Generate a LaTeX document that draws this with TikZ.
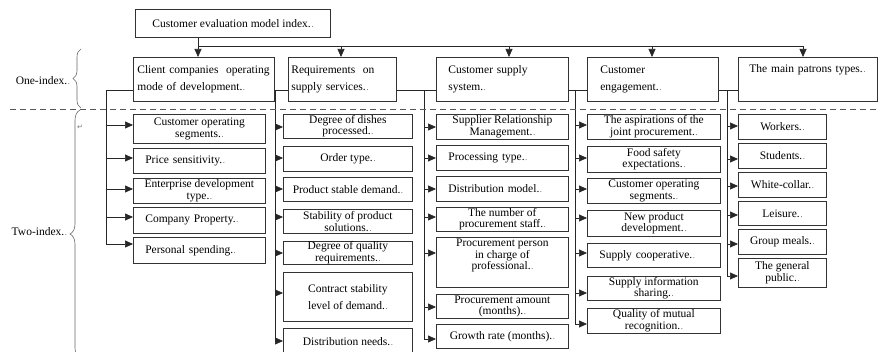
\documentclass[tikz,border=0pt]{standalone}
\usepackage{fontspec}
\setmainfont{Liberation Serif}
\newfontfamily\dejavu{DejaVu Sans}
\usetikzlibrary{arrows.meta,decorations.pathreplacing}
\newcommand{\pmk}{\kern0.8pt{\fontsize{7}{7}\selectfont.}}
\tikzset{
  ln/.style={line width=0.7pt, draw=black!85},
  arr/.style={ln, -{Triangle[length=8pt,width=7pt]}},
  topbox/.style={ln, draw=black!80, rectangle, inner sep=0pt, font=\fontsize{11.5}{12}\selectfont},
  lonebox/.style={ln, draw=black!80, rectangle, inner ysep=0pt, align=left, font=\fontsize{11.5}{17}\selectfont, anchor=north west},
  cbox/.style={ln, draw=black!80, rectangle, inner xsep=2pt, inner ysep=0pt, align=center, font=\fontsize{11.5}{11.5}\selectfont, anchor=north west},
  lbox/.style={ln, draw=black!80, rectangle, inner xsep=12pt, inner ysep=0pt, align=left, font=\fontsize{11.5}{11.5}\selectfont, anchor=north west},
  brc/.style={line width=0.6pt, draw=black!60, decorate},
  dline/.style={line width=0.8pt, draw=black!65, dash pattern=on 6pt off 4pt},
  lab/.style={font=\fontsize{11.5}{12}\selectfont, anchor=east, inner sep=0pt}
}
\begin{document}
\begin{tikzpicture}[x=1pt,y=-1pt]
\useasboundingbox (0,0) rectangle (880,352);
% top
\node[topbox, minimum width=195pt, minimum height=28pt, anchor=north west] (top) at (135,9) {Customer evaluation model index.\pmk};
% level one
\node[lonebox, minimum width=141pt, minimum height=44pt, text width=133pt, inner xsep=4pt] (l1) at (133,57) {Client companies\ \ operating\\mode of development.\pmk};
\node[lonebox, minimum width=108pt, minimum height=44pt, text width=102pt, inner xsep=3pt] (l2) at (288,57) {Requirements\ \ on\\supply services.\pmk};
\node[lonebox, minimum width=132pt, minimum height=44pt, text width=108pt, inner xsep=12pt] (l3) at (436,57) {Customer supply\\system.\pmk};
\node[lonebox, minimum width=131pt, minimum height=44pt, text width=105pt, inner xsep=13pt] (l4) at (587,57) {Customer\\engagement.\pmk};
\node[lonebox, minimum width=139pt, minimum height=44pt, text width=123pt, inner xsep=8pt] (l5) at (738,57) {\hspace*{3pt}The main patrons types.\pmk\\ \strut};
% top bus
\coordinate (t0) at (198,46);
\coordinate (t1) at (341,46);
\coordinate (t2) at (509,46);
\coordinate (t3) at (652,46);
\coordinate (t4) at (803,46);
\draw[ln] (top.south -| t0) -- (t0) -- (t4);
\draw[arr] (t0) -- (t0 |- l1.north);
\draw[arr] (t1) -- (t1 |- l2.north);
\draw[arr] (t2) -- (t2 |- l3.north);
\draw[arr] (t3) -- (t3 |- l4.north);
\draw[arr] (t4) -- (t4 |- l5.north);
% braces and labels
\draw[brc, decoration={brace, amplitude=8pt}] (81,108) -- (81,49);
\draw[brc, decoration={brace, amplitude=10pt}] (80,358) -- (80,110);
\node[lab] (one) at (70,81) {One-index.\pmk};
\node[lab] (two) at (67,232) {Two-index.\pmk};
\node[font=\fontsize{7}{7}\dejavu, text=black!55, inner sep=0pt] (ret) at (80,127) {↵};
% column 1
\node[cbox, minimum width=132pt, minimum height=29pt] (a1) at (133,114) {Customer operating\\segments.\pmk};
\node[lbox, text width=108pt, minimum height=25pt] (a2) at (133,148) {Price sensitivity.\pmk};
\node[cbox, minimum width=132pt, minimum height=25pt] (a3) at (133,178) {Enterprise development\\type.\pmk};
\node[lbox, text width=108pt, minimum height=26pt] (a4) at (133,207) {Company Property.\pmk};
\node[lbox, text width=108pt, minimum height=26pt] (a5) at (133,237) {Personal spending.\pmk};
% column 2
\node[cbox, minimum width=129pt, minimum height=24pt] (b1) at (283,114) {Degree of dishes\\processed.\pmk};
\node[cbox, minimum width=129pt, minimum height=25pt] (b2) at (283,146) {Order type.\pmk};
\node[cbox, minimum width=129pt, minimum height=24pt] (b3) at (283,177) {Product stable demand.\pmk};
\node[cbox, minimum width=129pt, minimum height=24pt] (b4) at (283,209) {Stability of product\\solutions.\pmk};
\node[cbox, minimum width=129pt, minimum height=23pt] (b5) at (283,241) {Degree of quality\\requirements.\pmk};
\node[cbox, minimum width=129pt, minimum height=49pt] (b6) at (283,272) {Contract stability\\[6pt]level of demand.\pmk};
\node[cbox, minimum width=129pt, minimum height=27pt] (b7) at (283,328) {Distribution needs.\pmk};
% column 3
\node[cbox, minimum width=132pt, minimum height=25pt] (c1) at (436,114) {Supplier Relationship\\Management.\pmk};
\node[lbox, text width=108pt, minimum height=25pt] (c2) at (436,145) {Processing type.\pmk};
\node[lbox, text width=108pt, minimum height=25pt] (c3) at (436,176) {Distribution model.\pmk};
\node[cbox, minimum width=132pt, minimum height=24pt] (c4) at (436,207) {The number of\\procurement staff.\pmk};
\node[cbox, minimum width=132pt, minimum height=50pt] (c5) at (436,237) {Procurement person\\in charge of\\professional.\pmk\\[4pt]};
\node[cbox, minimum width=132pt, minimum height=24pt] (c6) at (436,294) {Procurement amount\\(months).\pmk};
\node[cbox, minimum width=132pt, minimum height=24pt] (c7) at (436,324) {Growth rate (months).\pmk};
% column 4
\node[cbox, minimum width=133pt, minimum height=25pt] (d1) at (587,114) {The aspirations of the\\joint procurement.\pmk};
\node[cbox, minimum width=133pt, minimum height=26pt] (d2) at (587,146) {Food safety\\expectations.\pmk};
\node[cbox, minimum width=133pt, minimum height=25pt] (d3) at (587,178) {Customer operating\\segments.\pmk};
\node[cbox, minimum width=133pt, minimum height=26pt] (d4) at (587,210) {New product\\development.\pmk};
\node[lbox, text width=109pt, minimum height=24pt] (d5) at (587,243) {Supply cooperative.\pmk};
\node[cbox, minimum width=133pt, minimum height=24pt] (d6) at (587,276) {Supply information\\sharing.\pmk};
\node[cbox, minimum width=133pt, minimum height=25pt] (d7) at (587,308) {Quality of mutual\\recognition.\pmk};
% column 5
\node[cbox, minimum width=88pt, minimum height=25pt] (e1) at (738,114) {Workers.\pmk};
\node[cbox, minimum width=88pt, minimum height=25pt] (e2) at (738,143) {Students.\pmk};
\node[cbox, minimum width=88pt, minimum height=25pt] (e3) at (738,172) {White-collar.\pmk};
\node[cbox, minimum width=88pt, minimum height=24pt] (e4) at (738,201) {Leisure.\pmk};
\node[cbox, minimum width=88pt, minimum height=25pt] (e5) at (738,229) {Group meals.\pmk};
\node[cbox, minimum width=88pt, minimum height=29pt] (e6) at (738,258) {The general\\public.\pmk};
% column buses
\coordinate (s1) at (106,90);
\coordinate (s2) at (275,90);
\coordinate (s3) at (424,90);
\coordinate (s4) at (575,90);
\coordinate (s5) at (727,90);
\draw[ln] (l1.west |- s1) -- (s1) -- (106,244);
\draw[ln] (l1.east |- s2) -- (l2.west |- s2);
\draw[ln] (s2) -- (275,341);
\draw[ln] (l2.east |- s3) -- (l3.west |- s3);
\draw[ln] (s3) -- (424,339);
\draw[ln] (l3.east |- s4) -- (l4.west |- s4);
\draw[ln] (s4) -- (575,324);
\draw[ln] (l4.east |- s5) -- (l5.west |- s5);
\draw[ln] (s5) -- (727,276);
% arrows col 1
\draw[arr] (s1 |- 0,125) -- (a1.west |- 0,125);
\draw[arr] (s1 |- 0,158) -- (a2.west |- 0,158);
\draw[arr] (s1 |- 0,189) -- (a3.west |- 0,189);
\draw[arr] (s1 |- 0,217) -- (a4.west |- 0,217);
\draw[arr] (s1 |- 0,244) -- (a5.west |- 0,244);
% arrows col 2
\draw[arr] (s2 |- 0,127) -- (b1.west |- 0,127);
\draw[arr] (s2 |- 0,158) -- (b2.west |- 0,158);
\draw[arr] (s2 |- 0,189) -- (b3.west |- 0,189);
\draw[arr] (s2 |- 0,217) -- (b4.west |- 0,217);
\draw[arr] (s2 |- 0,253) -- (b5.west |- 0,253);
\draw[arr] (s2 |- 0,293) -- (b6.west |- 0,293);
\draw[arr] (s2 |- 0,341) -- (b7.west |- 0,341);
% arrows col 3
\draw[arr] (s3 |- 0,127) -- (c1.west |- 0,127);
\draw[arr] (s3 |- 0,158) -- (c2.west |- 0,158);
\draw[arr] (s3 |- 0,189) -- (c3.west |- 0,189);
\draw[arr] (s3 |- 0,217) -- (c4.west |- 0,217);
\draw[arr] (s3 |- 0,253) -- (c5.west |- 0,253);
\draw[arr] (s3 |- 0,307) -- (c6.west |- 0,307);
\draw[arr] (s3 |- 0,339) -- (c7.west |- 0,339);
% arrows col 4
\draw[arr] (s4 |- 0,125) -- (d1.west |- 0,125);
\draw[arr] (s4 |- 0,158) -- (d2.west |- 0,158);
\draw[arr] (s4 |- 0,189) -- (d3.west |- 0,189);
\draw[arr] (s4 |- 0,218) -- (d4.west |- 0,218);
\draw[arr] (s4 |- 0,253) -- (d5.west |- 0,253);
\draw[arr] (s4 |- 0,293) -- (d6.west |- 0,293);
\draw[arr] (s4 |- 0,324) -- (d7.west |- 0,324);
% arrows col 5
\draw[arr] (s5 |- 0,126) -- (e1.west |- 0,126);
\draw[arr] (s5 |- 0,159) -- (e2.west |- 0,159);
\draw[arr] (s5 |- 0,186) -- (e3.west |- 0,186);
\draw[arr] (s5 |- 0,215) -- (e4.west |- 0,215);
\draw[arr] (s5 |- 0,244) -- (e5.west |- 0,244);
\draw[arr] (s5 |- 0,276) -- (e6.west |- 0,276);
% dashed separator
\coordinate (dl0) at (10,109);
\coordinate (dl1) at (880,109);
\draw[dline] (dl0) -- (dl1);
\end{tikzpicture}
\end{document}
